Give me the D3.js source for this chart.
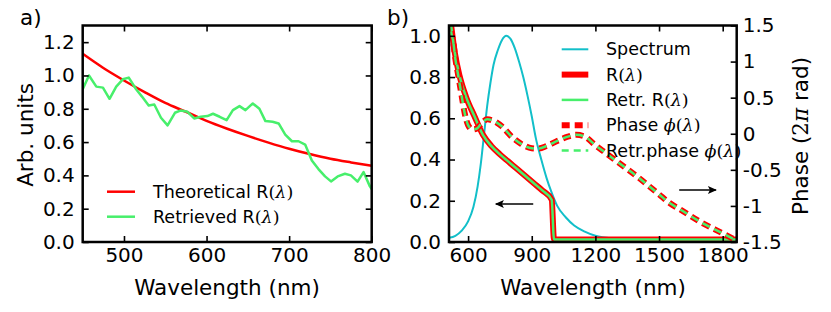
<!DOCTYPE html>
<html>
<head>
<meta charset="utf-8">
<script src="https://cdn.jsdelivr.net/npm/d3@7"></script>
<style>
body { margin: 0; background: #fff; }
svg text { font-family: 'DejaVu Sans', sans-serif; fill: #000; }
</style>
</head>
<body>
<div class="container"></div>
<script>
// ---- panel a data ----
const wlTheo = [450, 475, 500, 525, 550, 575, 600, 625, 650, 675, 700, 725, 750, 775, 800]
const theoR = [1.13, 1.045, 0.97, 0.90, 0.835, 0.782, 0.727, 0.68, 0.637, 0.597, 0.56, 0.528, 0.50, 0.478, 0.458]
const wlRetr = [450, 457.6, 466.5, 474.5, 482.5, 490.6, 498.6, 505.8, 514.7, 521.8, 529.9, 536.7, 544.8, 552.8,
    561.7, 568.9, 576.9, 585, 593, 601, 607.8, 615.9, 624.3, 631.9, 639.9, 647.1, 656, 664, 671.3, 680,
    687.3, 695.3, 703.4, 711.4, 719.4, 727.5, 735.5, 743.5, 750.7, 758.8, 767.6, 774.8, 782.9, 790.1, 797.8, 801]
const retrR = [0.917, 1.0, 0.933, 0.927, 0.86, 0.933, 0.977, 0.987, 0.917, 0.873, 0.82, 0.826, 0.746, 0.70,
    0.776, 0.79, 0.782, 0.742, 0.752, 0.756, 0.77, 0.752, 0.732, 0.792, 0.816, 0.792, 0.832, 0.80, 0.726, 0.722,
    0.712, 0.645, 0.605, 0.605, 0.585, 0.49, 0.438, 0.394, 0.364, 0.394, 0.41, 0.40, 0.362, 0.42, 0.334, 0.31]

// ---- panel b data ----
const wlSpec = [510, 540, 570, 600, 625, 645, 660, 675, 690, 705, 720, 740, 760, 780, 800, 820, 840, 860, 880,
    900, 920, 945, 970, 990, 1020, 1060, 1100, 1150, 1200, 1300, 1400, 1600, 1866]
const spectrum = [0.02, 0.03, 0.055, 0.1, 0.17, 0.27, 0.38, 0.52, 0.66, 0.77, 0.86, 0.93, 0.98, 1.0, 0.985, 0.94,
    0.875, 0.8, 0.71, 0.61, 0.5, 0.4, 0.31, 0.25, 0.175, 0.12, 0.08, 0.05, 0.03, 0.015, 0.008, 0.005, 0.004]
const wlR = [510, 522, 538, 560, 590, 630, 670, 710, 750, 790, 830, 870, 910, 950, 994, 1005, 1200, 1500, 1866]
const reflR = [1.13, 1.035, 0.914, 0.805, 0.705, 0.61, 0.52, 0.465, 0.425, 0.39, 0.355, 0.32, 0.285, 0.25, 0.205,
    0.012, 0.012, 0.012, 0.012]
const retrReflR = reflR
const wlPhase = [510, 522, 530, 538, 554, 570, 585, 600, 620, 640, 665, 690, 720, 760, 805, 850, 900, 930, 970,
    1020, 1070, 1110, 1150, 1200, 1250, 1300, 1400, 1500, 1550, 1600, 1700, 1800, 1866]
const phase = [1.6, 1.38, 1.28, 1.08, 0.8, 0.52, 0.27, 0.12, 0.06, 0.07, 0.15, 0.2, 0.18, 0.1, -0.04, -0.14, -0.2,
    -0.205, -0.17, -0.1, -0.04, -0.015, -0.04, -0.16, -0.27, -0.38, -0.6, -0.84, -0.96, -1.05, -1.23, -1.38, -1.48]
const retrPhase = phase

// ticks
const xTicksA = [500, 600, 700, 800]
const yTicksA = [0, 0.2, 0.4, 0.6, 0.8, 1.0, 1.2]
const xTicksB = [600, 900, 1200, 1500, 1800]
const yTicksB = [0, 0.2, 0.4, 0.6, 0.8, 1.0]
const phaseTicks = [-1.5, -1, -0.5, 0, 0.5, 1, 1.5]

// arrows: [x0, y0, x1, y1] tail -> tip, data coords
const arrowLeft = [907, 0.184, 731, 0.184]
const arrowRight = [1595, -0.78, 1768, -0.78]

const red = '#ff0000'
const green = '#47ef6b'
const cyan = '#12bfc9'

const width = 831
const height = 312
const plotTop = 25.5
const plotBottom = 242

const svg = d3.select('.container')
    .append('svg')
    .attr('width', width)
    .attr('height', height)

const defs = svg.append('defs')
defs.append('marker')
    .attr('id', 'head')
    .attr('viewBox', '-10 -5 12 10')
    .attr('refX', 0)
    .attr('refY', 0)
    .attr('markerWidth', 12)
    .attr('markerHeight', 10)
    .attr('markerUnits', 'userSpaceOnUse')
    .attr('orient', 'auto')
    .append('path')
    .attr('d', 'M1,0 L-8,-4 L-6,0 L-8,4 Z')
    .attr('fill', '#000')

function clip(id, x0, x1) {
    defs.append('clipPath').attr('id', id)
        .append('rect')
        .attr('x', x0).attr('y', plotTop)
        .attr('width', x1 - x0).attr('height', plotBottom - plotTop)
}

function mathLabel(sel, parts) {
    // parts: [text, kind] with kind 'sans' | 'it' | 'serif'
    parts.forEach(([t, kind]) => {
        const ts = sel.append('tspan').text(t)
        if (kind === 'it') ts.style('font-family', "'DejaVu Serif', serif").style('font-style', 'italic')
        if (kind === 'serif') ts.style('font-family', "'DejaVu Serif', serif")
    })
}

function inwardAxes(g, x, y, xTicks, yTicks, opts) {
    const x0 = x.range()[0], x1 = x.range()[1]
    const bx = g.append('g')
        .attr('transform', `translate(0,${plotBottom})`)
        .call(d3.axisBottom(x).tickValues(xTicks).tickSize(-6).tickSizeOuter(0).tickPadding(5.5)
            .tickFormat(d3.format('d')))
    const tx = g.append('g')
        .attr('transform', `translate(0,${plotTop})`)
        .call(d3.axisTop(x).tickValues(xTicks).tickSize(-6).tickSizeOuter(0).tickFormat(''))
    const ly = g.append('g')
        .attr('transform', `translate(${x0},0)`)
        .call(d3.axisLeft(y).tickValues(yTicks).tickSize(-6).tickSizeOuter(0).tickPadding(8).tickFormat(d3.format('.1f')))
    ;[bx, tx, ly].forEach(a => {
        a.select('.domain').remove()
        a.selectAll('line').attr('stroke', '#000').attr('stroke-width', 1.6)
        a.selectAll('text').attr('font-size', 20).style('font-family', "'DejaVu Sans', sans-serif")
    })
    if (opts.rightMirror) {
        const ry = g.append('g')
            .attr('transform', `translate(${x1},0)`)
            .call(d3.axisRight(y).tickValues(yTicks).tickSize(-6).tickSizeOuter(0).tickFormat(''))
        ry.select('.domain').remove()
        ry.selectAll('line').attr('stroke', '#000').attr('stroke-width', 1.6)
    }
}

function frame(g, x0, x1) {
    g.append('rect')
        .attr('x', x0).attr('y', plotTop)
        .attr('width', x1 - x0).attr('height', plotBottom - plotTop)
        .attr('fill', 'none')
        .attr('stroke', '#000')
        .attr('stroke-width', 2.5)
}

// ================= panel a =================
const xA = d3.scaleLinear().domain([450, 800]).range([82.7, 371.7])
const yA = d3.scaleLinear().domain([0, 1.3]).range([plotBottom, plotTop])
clip('clipA', 82.7, 371.7)

const gA = svg.append('g')
const plotA = gA.append('g').attr('clip-path', 'url(#clipA)')

const lineTheo = d3.line().x((d, i) => xA(wlTheo[i])).y(d => yA(d)).curve(d3.curveMonotoneX)
plotA.append('path').attr('d', lineTheo(theoR))
    .attr('fill', 'none').attr('stroke', red).attr('stroke-width', 2.5)

const lineRetr = d3.line().x((d, i) => xA(wlRetr[i])).y(d => yA(d))
plotA.append('path').attr('d', lineRetr(retrR))
    .attr('fill', 'none').attr('stroke', green).attr('stroke-width', 2.5).attr('stroke-linejoin', 'round')

inwardAxes(gA, xA, yA, xTicksA, yTicksA, { rightMirror: true })
frame(gA, 82.7, 371.7)

// legend a
const legA = [
    { parts: [['Theoretical R', 'sans'], ['(', 'serif'], ['λ', 'it'], [')', 'serif']], color: red },
    { parts: [['Retrieved R', 'sans'], ['(', 'serif'], ['λ', 'it'], [')', 'serif']], color: green }
]
legA.forEach((d, i) => {
    const yy = 191.7 + i * 25
    gA.append('line').attr('x1', 107).attr('x2', 135).attr('y1', yy).attr('y2', yy)
        .attr('stroke', d.color).attr('stroke-width', 2.5)
    mathLabel(gA.append('text').attr('x', 153).attr('y', yy + 6).attr('font-size', 17.5), d.parts)
})

gA.append('text').attr('x', 227).attr('y', 294.5).attr('text-anchor', 'middle')
    .attr('font-size', 21.5).text('Wavelength (nm)')
gA.append('text').attr('transform', 'translate(33,135) rotate(-90)').attr('text-anchor', 'middle')
    .attr('font-size', 21.5).text('Arb. units')
gA.append('text').attr('x', 20).attr('y', 24.5).attr('font-size', 21.5).text('a)')

// ================= panel b =================
const xB = d3.scaleLinear().domain([510, 1866]).range([449, 736.7])
const yB = d3.scaleLinear().domain([0, 1.05]).range([plotBottom, plotTop])
const yP = d3.scaleLinear().domain([-1.5, 1.5]).range([plotBottom, plotTop])
clip('clipB', 449, 736.7)

const gB = svg.append('g')
const plotB = gB.append('g').attr('clip-path', 'url(#clipB)')

const lineSpec = d3.line().x((d, i) => xB(wlSpec[i])).y(d => yB(d)).curve(d3.curveMonotoneX)
plotB.append('path').attr('d', lineSpec(spectrum))
    .attr('fill', 'none').attr('stroke', cyan).attr('stroke-width', 2)

const lineR = d3.line().x((d, i) => xB(wlR[i])).y(d => yB(d)).curve(d3.curveMonotoneX)
plotB.append('path').attr('d', lineR(reflR))
    .attr('fill', 'none').attr('stroke', red).attr('stroke-width', 6).attr('stroke-linejoin', 'round')
plotB.append('path').attr('d', lineR(retrReflR))
    .attr('fill', 'none').attr('stroke', green).attr('stroke-width', 2.5).attr('stroke-linejoin', 'round')

const linePh = d3.line().x((d, i) => xB(wlPhase[i])).y(d => yP(d)).curve(d3.curveMonotoneX)
plotB.append('path').attr('d', linePh(phase))
    .attr('fill', 'none').attr('stroke', red).attr('stroke-width', 6).attr('stroke-dasharray', '8,5')
plotB.append('path').attr('d', linePh(retrPhase))
    .attr('fill', 'none').attr('stroke', green).attr('stroke-width', 2.5).attr('stroke-dasharray', '8,5')

inwardAxes(gB, xB, yB, xTicksB, yTicksB, { rightMirror: false })

const rp = gB.append('g')
    .attr('transform', 'translate(736.7,0)')
    .call(d3.axisRight(yP).tickValues(phaseTicks).tickSize(-6).tickSizeOuter(0).tickPadding(6)
        .tickFormat(d => String(d)))
rp.select('.domain').remove()
rp.selectAll('line').attr('stroke', '#000').attr('stroke-width', 1.6)
rp.selectAll('text').attr('font-size', 20).style('font-family', "'DejaVu Sans', sans-serif")

frame(gB, 449, 736.7)

// arrows
;[[arrowLeft, yB], [arrowRight, yP]].forEach(([a, ys]) => {
    gB.append('line')
        .attr('x1', xB(a[0])).attr('y1', ys(a[1]))
        .attr('x2', xB(a[2])).attr('y2', ys(a[3]))
        .attr('stroke', '#000').attr('stroke-width', 1.6)
        .attr('marker-end', 'url(#head)')
})

// legend b
const legB = [
    { parts: [['Spectrum', 'sans']], color: cyan, w: 2, dash: null },
    { parts: [['R', 'sans'], ['(', 'serif'], ['λ', 'it'], [')', 'serif']], color: red, w: 6, dash: null },
    { parts: [['Retr. R', 'sans'], ['(', 'serif'], ['λ', 'it'], [')', 'serif']], color: green, w: 2.5, dash: null },
    { parts: [['Phase ', 'sans'], ['ϕ', 'it'], ['(', 'serif'], ['λ', 'it'], [')', 'serif']], color: red, w: 6, dash: '8,5' },
    { parts: [['Retr.phase ', 'sans'], ['ϕ', 'it'], ['(', 'serif'], ['λ', 'it'], [')', 'serif']], color: green, w: 2.5, dash: '7,5' }
]
legB.forEach((d, i) => {
    const yy = 49.3 + i * 25.3
    const ln = gB.append('line').attr('x1', 561.7).attr('x2', 588.3).attr('y1', yy).attr('y2', yy)
        .attr('stroke', d.color).attr('stroke-width', d.w)
    if (d.dash) ln.attr('stroke-dasharray', d.dash)
    mathLabel(gB.append('text').attr('x', 606).attr('y', yy + 6).attr('font-size', 17.5), d.parts)
})

gB.append('text').attr('x', 593).attr('y', 294.5).attr('text-anchor', 'middle')
    .attr('font-size', 21.5).text('Wavelength (nm)')
const phLabel = gB.append('text').attr('transform', 'translate(808.3,136) rotate(-90)')
    .attr('text-anchor', 'middle').attr('font-size', 21.5)
mathLabel(phLabel, [['Phase (', 'sans'], ['2', 'serif'], ['π', 'it'], [' rad)', 'sans']])
gB.append('text').attr('x', 387).attr('y', 24.5).attr('font-size', 21.5).text('b)')
</script>
</body>
</html>
